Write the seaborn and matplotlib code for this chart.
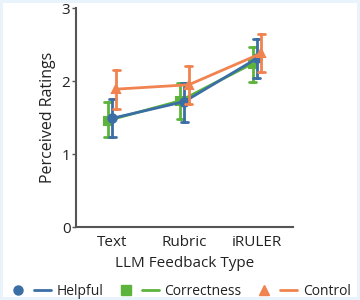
import numpy as np
import pandas as pd
import seaborn as sns
import matplotlib.pyplot as plt
from matplotlib.lines import Line2D
from matplotlib.legend_handler import HandlerTuple

# Данные: категории, средние и границы ошибок
feedback = ['Text', 'Rubric', 'iRULER']
groups = ['Helpful', 'Correctness', 'Control']

helpful_mean = [1.49, 1.72, 2.31]
helpful_low = [1.23, 1.44, 2.04]
helpful_high = [1.75, 1.98, 2.57]

correct_mean = [1.46, 1.73, 2.24]
correct_low = [1.23, 1.48, 1.99]
correct_high = [1.71, 1.97, 2.47]

control_mean = [1.89, 1.95, 2.38]
control_low = [1.62, 1.68, 2.13]
control_high = [2.15, 2.21, 2.65]

colors = {'Helpful': '#3a6ea5', 'Correctness': '#5db43c', 'Control': '#f0834f'}
markers = {'Helpful': 'o', 'Correctness': 's', 'Control': '^'}

# Собираем таблицу: низ, центр, верх -> медиана = центр, min/max = ошибки
rows = []
for g, lo, mid, hi in [('Helpful', helpful_low, helpful_mean, helpful_high),
                       ('Correctness', correct_low, correct_mean, correct_high),
                       ('Control', control_low, control_mean, control_high)]:
    for i, f in enumerate(feedback):
        for v in (lo[i], mid[i], hi[i]):
            rows.append({'Feedback': f, 'Group': g, 'Rating': v})
df = pd.DataFrame(rows)

sns.set_style('ticks')
plt.rcParams['font.family'] = ['Open Sans', 'DejaVu Sans']

fig = plt.figure(figsize=(3.6, 3.0), dpi=100)
fig.patch.set_edgecolor('#e8f3fc')
fig.patch.set_linewidth(4)
ax = fig.add_axes([0.211, 0.243, 0.603, 0.73])

order_plot = ['Correctness', 'Helpful', 'Control']
sns.pointplot(data=df, x='Feedback', y='Rating', hue='Group', order=feedback,
              hue_order=order_plot, palette=colors, markers=[markers[g] for g in order_plot],
              estimator='median', errorbar=lambda x: (x.min(), x.max()),
              dodge=0.12, capsize=0.1, err_kws={'linewidth': 2},
              linewidth=2, markersize=6, ax=ax, legend=False)

ax.set_ylim(0, 3)
ax.set_xlim(-0.5, 2.5)
ax.set_yticks([0, 1, 2, 3])
ax.set_ylabel('Perceived Ratings', fontsize=11.5, color='#222222')
ax.set_xlabel('LLM Feedback Type', fontsize=11, color='#222222')
ax.tick_params(axis='y', labelsize=11, length=3, width=1, colors='#555555', labelcolor='#222222', pad=1)
ax.tick_params(axis='x', labelsize=11, length=0, labelcolor='#222222', pad=6)
for s in ['left', 'bottom']:
    ax.spines[s].set_linewidth(1.5)
    ax.spines[s].set_color('#555555')
sns.despine(ax=ax)

handles = []
for g in groups:
    m = Line2D([], [], marker=markers[g], color=colors[g], linestyle='none', markersize=6.5)
    l = Line2D([], [], color=colors[g], linewidth=2)
    handles.append((m, l))
fig.legend(handles, groups, handler_map={tuple: HandlerTuple(ndivide=None, pad=0.5)},
           loc='lower center', bbox_to_anchor=(0.5, -0.005), ncol=3, frameon=False,
           fontsize=10, handlelength=3.0, columnspacing=1.0, handletextpad=0.4,
           borderaxespad=0.0, borderpad=0.2, labelcolor='#222222')

fig.savefig('out.png', dpi=100)
